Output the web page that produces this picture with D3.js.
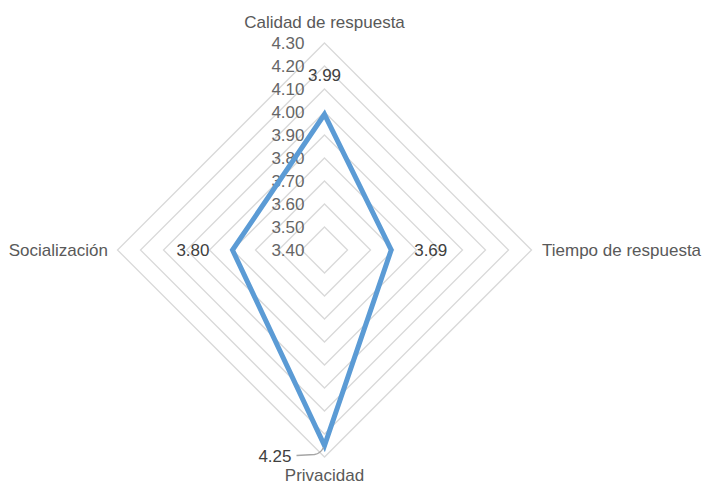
<!DOCTYPE html>
<html><head><meta charset="utf-8">
<script src="https://cdn.jsdelivr.net/npm/d3@7"></script>
<style>body{margin:0;background:#fff}svg{display:block}</style>
</head><body>
<script>
const categories = ["Calidad de respuesta", "Tiempo de respuesta", "Privacidad", "Socialización"];
const values = [3.99, 3.69, 4.25, 3.80];
const ticks = [3.40, 3.50, 3.60, 3.70, 3.80, 3.90, 4.00, 4.10, 4.20, 4.30];

const W = 702, H = 486, cx = 324.5, cy = 250, R = 207;
const font = "'Liberation Sans', Arial, sans-serif";
const FS = 17;
const svg = d3.select("body").append("svg").attr("width", W).attr("height", H);
const r = d3.scaleLinear().domain([3.40, 4.30]).range([0, R]);
const ang = i => -Math.PI/2 + i * 2*Math.PI/categories.length;
const pt = (v, i) => [cx + r(v)*Math.cos(ang(i)), cy + r(v)*Math.sin(ang(i))];

// grid rings
ticks.slice(1).forEach(t => {
  svg.append("path").attr("d", d3.line()(categories.map((c,i)=>pt(t,i))) + "Z")
    .attr("fill","none").attr("stroke","#d9d9d9").attr("stroke-width",1.3);
});

// tick labels
ticks.forEach(t => {
  svg.append("text").attr("x", cx - 20).attr("y", cy - r(t)).attr("dy","0.35em")
    .attr("text-anchor","end").attr("font-family",font).attr("font-size",FS)
    .attr("fill","#666666").text(t.toFixed(2));
});

// data polygon
svg.append("path").attr("d", d3.line()(values.map((v,i)=>pt(v,i))) + "Z")
  .attr("fill","none").attr("stroke","#5b9bd5").attr("stroke-width",5).attr("stroke-linejoin","miter");

// data labels
const lab = (x,y,anchor,t) => svg.append("text").attr("x",x).attr("y",y).attr("dy","0.35em")
  .attr("text-anchor",anchor).attr("font-family",font).attr("font-size",FS).attr("fill","#404040").text(t);
{
  const p0 = pt(values[0],0); lab(p0[0], p0[1]-39, "middle", values[0].toFixed(2));
  const p1 = pt(values[1],1); lab(p1[0]+23, p1[1], "start", values[1].toFixed(2));
  const p3 = pt(values[3],3); lab(p3[0]-23, p3[1], "end", values[3].toFixed(2));
  const p2 = pt(values[2],2);
  lab(p2[0]-33, p2[1]+11, "end", values[2].toFixed(2));
  svg.append("path").attr("d", `M${p2[0]-28},${p2[1]+10} L${p2[0]-10},${p2[1]+9} Q${p2[0]-4},${p2[1]+8} ${p2[0]-1},${p2[1]+2}`)
    .attr("fill","none").attr("stroke","#a6a6a6").attr("stroke-width",1.3);
}

// category labels
const cat = (x,y,anchor,t) => svg.append("text").attr("x",x).attr("y",y).attr("dy","0.35em")
  .attr("text-anchor",anchor).attr("font-family",font).attr("font-size",FS).attr("fill","#595959").text(t);
cat(cx, 22, "middle", categories[0]);
cat(542, cy, "start", categories[1]);
cat(cx, 475, "middle", categories[2]);
cat(108, cy, "end", categories[3]);
</script>
</body></html>
